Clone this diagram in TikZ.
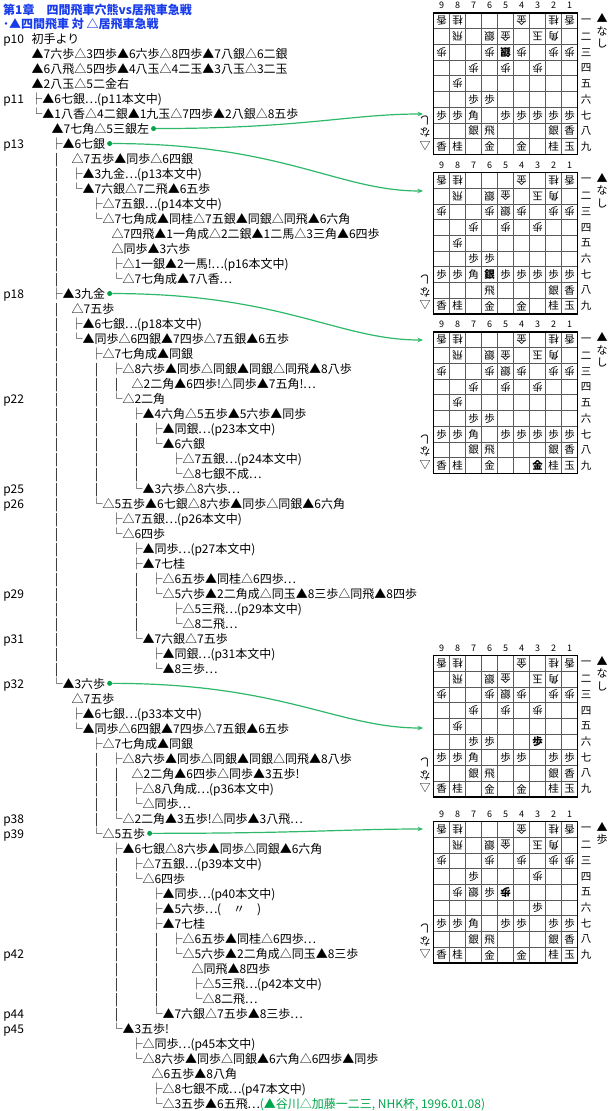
\documentclass[tikz,border=0pt]{standalone}
\usepackage{fontspec}
\setmainfont{Noto Sans CJK JP}
\newcommand\Dts{\makebox[12pt][c]{…}}
\usetikzlibrary{arrows.meta,calc}
\definecolor{tblue}{RGB}{25,60,235}
\definecolor{lgreen}{RGB}{45,185,105}
\definecolor{dgreen}{RGB}{0,165,75}
\definecolor{gridc}{RGB}{90,90,90}
\newcommand\TreeLine[4]{\node[txt] (#1) at ({30.5+20*#3},{43.1+15*#2}) {#4};}
\newcommand\ContLine[4]{\node[txt] (#1) at ({51.7+20*#3},{43.1+15*#2}) {#4};}
\newcommand\PageLbl[3]{\node[txt] (#1) at (3.3,{43.1+15*#2}) {#3};}
\newcommand\DrawBoard[4]{%
  \foreach \cc in {1,...,8}{\draw[gridline] ({433.5+16*\cc},#2) -- ({433.5+16*\cc},{#2+141.3});}
  \foreach \rr in {1,...,8}{\draw[gridline] (433.5,{#2+15.7*\rr}) -- (577.5,{#2+15.7*\rr});}
  \node[boardframe] (#1) at (505.5,{#2+70.65}) {};
  \foreach \cc in {1,...,9}{\node[collbl] (#1c\cc) at ({433.5+(9-\cc)*16+8},{#2-7.5}) {\cc};}
  \foreach \rr/\kk in {1/一,2/二,3/三,4/四,5/五,6/六,7/七,8/八,9/九}{\node[ranklbl] (#1r\rr) at (586,{#2+(\rr-0.5)*15.7}) {\kk};}
  \foreach \cc/\rr/\pp/\aa in {#3}{\node[pc,rotate=\aa] (#1p\cc\rr) at ({433.5+(9-\cc)*16+8},{#2+(\rr-0.5)*15.7}) {\pp};}
  \node[shand] (#1hs) at (602,{#2+0.5}) {▲\\#4};
  \node[ghand] (#1hg) at (425,{#2+120}) {△\\な\\し};
}
\begin{document}
\begin{tikzpicture}[x=1pt,y=-1pt,
  txt/.style={inner sep=0pt,outer sep=0pt,anchor=base west,font=\fontsize{12}{15}\selectfont},
  vbar/.style={inner sep=0pt,anchor=base,font=\fontsize{12}{15}\selectfont},
  ttl/.style={inner sep=0pt,anchor=base west,text=tblue,font=\fontsize{12}{15}\selectfont\bfseries},
  gdot/.style={circle,fill=dgreen,inner sep=0pt,minimum size=5pt},
  garrow/.style={draw=lgreen,line width=1.2pt,-{Stealth[length=5.5pt,width=4.5pt]}},
  boardframe/.style={draw=black,line width=1.6pt,minimum width=144pt,minimum height=141.3pt,inner sep=0pt},
  gridline/.style={draw=gridc,line width=0.7pt},
  pc/.style={inner sep=0pt,font=\fontsize{10.5}{11}\selectfont},
  collbl/.style={inner sep=0pt,font=\fontsize{9}{10}\selectfont},
  ranklbl/.style={inner sep=0pt,font=\fontsize{10.5}{11}\selectfont},
  shand/.style={inner sep=0pt,anchor=north,align=center,font=\fontsize{11}{12.5}\selectfont},
  ghand/.style={inner sep=0pt,align=center,rotate=180,font=\fontsize{11}{12.5}\selectfont}]
\fill[white] (0,0) rectangle (612,1111);
\useasboundingbox (0,0) rectangle (612,1111);
% titles
\node[ttl] (t1) at (3,14.5) {第1章　四間飛車穴熊vs居飛車急戦};
\node[ttl] (t2) at (3,28.5) {･▲四間飛車 対 △居飛車急戦};
% page labels
\PageLbl{p10}{0}{p10}
\PageLbl{p11}{4}{p11}
\PageLbl{p13}{7}{p13}
\PageLbl{p18}{17}{p18}
\PageLbl{p22}{24}{p22}
\PageLbl{p25}{30}{p25}
\PageLbl{p26}{31}{p26}
\PageLbl{p29}{37}{p29}
\PageLbl{p31}{40}{p31}
\PageLbl{p32}{43}{p32}
\PageLbl{p38}{52}{p38}
\PageLbl{p39}{53}{p39}
\PageLbl{p42}{61}{p42}
\PageLbl{p44}{65}{p44}
\PageLbl{p45}{66}{p45}
% opening
\node[txt] (l0) at (31.7,43.1) {初手より};
\node[txt] (l1) at (31.7,58.1) {▲7六歩△3四歩▲6六歩△8四歩▲7八銀△6二銀};
\node[txt] (l2) at (31.7,73.1) {▲6八飛△5四歩▲4八玉△4二玉▲3八玉△3二玉};
\node[txt] (l3) at (31.7,88.1) {▲2八玉△5二金右};
% tree
\TreeLine{l4}{4}{0}{├▲6七銀\Dts(p11本文中)}
\TreeLine{l5}{5}{0}{└▲1八香△4二銀▲1九玉△7四歩▲2八銀△8五歩}
\ContLine{l6}{6}{0}{▲7七角△5三銀左}
\TreeLine{l7}{7}{1}{├▲6七銀}
\ContLine{l8}{8}{1}{△7五歩▲同歩△6四銀}
\TreeLine{l9}{9}{2}{├▲3九金\Dts(p13本文中)}
\TreeLine{l10}{10}{2}{└▲7六銀△7二飛▲6五歩}
\TreeLine{l11}{11}{3}{├△7五銀\Dts(p14本文中)}
\TreeLine{l12}{12}{3}{└△7七角成▲同桂△7五銀▲同銀△同飛▲6六角}
\ContLine{l13}{13}{3}{△7四飛▲1一角成△2二銀▲1二馬△3三角▲6四歩}
\ContLine{l14}{14}{3}{△同歩▲3六歩}
\TreeLine{l15}{15}{4}{├△1一銀▲2一馬!\Dts(p16本文中)}
\TreeLine{l16}{16}{4}{└△7七角成▲7八香\Dts}
\TreeLine{l17}{17}{1}{├▲3九金}
\ContLine{l18}{18}{1}{△7五歩}
\TreeLine{l19}{19}{2}{├▲6七銀\Dts(p18本文中)}
\TreeLine{l20}{20}{2}{└▲同歩△6四銀▲7四歩△7五銀▲6五歩}
\TreeLine{l21}{21}{3}{├△7七角成▲同銀}
\TreeLine{l22}{22}{4}{├△8六歩▲同歩△同銀▲同銀△同飛▲8八歩}
\ContLine{l23}{23}{4}{△2二角▲6四歩!△同歩▲7五角!\Dts}
\TreeLine{l24}{24}{4}{└△2二角}
\TreeLine{l25}{25}{5}{├▲4六角△5五歩▲5六歩▲同歩}
\TreeLine{l26}{26}{6}{├▲同銀\Dts(p23本文中)}
\TreeLine{l27}{27}{6}{└▲6六銀}
\TreeLine{l28}{28}{7}{├△7五銀\Dts(p24本文中)}
\TreeLine{l29}{29}{7}{└△8七銀不成\Dts}
\TreeLine{l30}{30}{5}{└▲3六歩△8六歩\Dts}
\TreeLine{l31}{31}{3}{└△5五歩▲6七銀△8六歩▲同歩△同銀▲6六角}
\TreeLine{l32}{32}{4}{├△7五銀\Dts(p26本文中)}
\TreeLine{l33}{33}{4}{└△6四歩}
\TreeLine{l34}{34}{5}{├▲同歩\Dts(p27本文中)}
\TreeLine{l35}{35}{5}{├▲7七桂}
\TreeLine{l36}{36}{6}{├△6五歩▲同桂△6四歩\Dts}
\TreeLine{l37}{37}{6}{└△5六歩▲2二角成△同玉▲8三歩△同飛▲8四歩}
\TreeLine{l38}{38}{7}{├△5三飛\Dts(p29本文中)}
\TreeLine{l39}{39}{7}{└△8二飛\Dts}
\TreeLine{l40}{40}{5}{└▲7六銀△7五歩}
\TreeLine{l41}{41}{6}{├▲同銀\Dts(p31本文中)}
\TreeLine{l42}{42}{6}{└▲8三歩\Dts}
\TreeLine{l43}{43}{1}{└▲3六歩}
\ContLine{l44}{44}{1}{△7五歩}
\TreeLine{l45}{45}{2}{├▲6七銀\Dts(p33本文中)}
\TreeLine{l46}{46}{2}{└▲同歩△6四銀▲7四歩△7五銀▲6五歩}
\TreeLine{l47}{47}{3}{├△7七角成▲同銀}
\TreeLine{l48}{48}{4}{├△8六歩▲同歩△同銀▲同銀△同飛▲8八歩}
\ContLine{l49}{49}{4}{△2二角▲6四歩△同歩▲3五歩!}
\TreeLine{l50}{50}{5}{├△8八角成\Dts(p36本文中)}
\TreeLine{l51}{51}{5}{└△同歩\Dts}
\TreeLine{l52}{52}{4}{└△2二角▲3五歩!△同歩▲3八飛\Dts}
\TreeLine{l53}{53}{3}{└△5五歩}
\TreeLine{l54}{54}{4}{├▲6七銀△8六歩▲同歩△同銀▲6六角}
\TreeLine{l55}{55}{5}{├△7五銀\Dts(p39本文中)}
\TreeLine{l56}{56}{5}{└△6四歩}
\TreeLine{l57}{57}{6}{├▲同歩\Dts(p40本文中)}
\TreeLine{l58}{58}{6}{├▲5六歩\Dts(　〃　)}
\TreeLine{l59}{59}{6}{├▲7七桂}
\TreeLine{l60}{60}{7}{├△6五歩▲同桂△6四歩\Dts}
\TreeLine{l61}{61}{7}{└△5六歩▲2二角成△同玉▲8三歩}
\ContLine{l62}{62}{7}{△同飛▲8四歩}
\TreeLine{l63}{63}{8}{├△5三飛\Dts(p42本文中)}
\TreeLine{l64}{64}{8}{└△8二飛\Dts}
\TreeLine{l65}{65}{6}{└▲7六銀△7五歩▲8三歩\Dts}
\TreeLine{l66}{66}{4}{└▲3五歩!}
\TreeLine{l67}{67}{5}{├△同歩\Dts(p45本文中)}
\TreeLine{l68}{68}{5}{└△8六歩▲同歩△同銀▲6六角△6四歩▲同歩}
\ContLine{l69}{69}{5}{△6五歩▲8八角}
\TreeLine{l70}{70}{6}{├△8七銀不成\Dts(p47本文中)}
\TreeLine{l71}{71}{6}{└△3五歩▲6五飛\Dts\textcolor{dgreen}{(▲谷川△加藤一二三, NHK杯, 1996.01.08)}}
% vertical bars
\foreach \ii in {8,...,16}{\node[vbar] (v1-\ii) at (56.5,{43.1+15*\ii}) {|};}
\foreach \ii in {18,...,42}{\node[vbar] (v1-\ii) at (56.5,{43.1+15*\ii}) {|};}
\foreach \ii in {22,...,30}{\node[vbar] (v3-\ii) at (96.5,{43.1+15*\ii}) {|};}
\foreach \ii in {48,...,52}{\node[vbar] (v3-\ii) at (96.5,{43.1+15*\ii}) {|};}
\foreach \ii in {23,49,50,51}{\node[vbar] (v4-\ii) at (116.5,{43.1+15*\ii}) {|};}
\foreach \ii in {55,...,65}{\node[vbar] (v4-\ii) at (116.5,{43.1+15*\ii}) {|};}
\foreach \ii in {26,...,29}{\node[vbar] (v5-\ii) at (136.5,{43.1+15*\ii}) {|};}
\foreach \ii in {36,...,39}{\node[vbar] (v5-\ii) at (136.5,{43.1+15*\ii}) {|};}
\foreach \ii in {60,...,64}{\node[vbar] (v6-\ii) at (156.5,{43.1+15*\ii}) {|};}
% boards
\DrawBoard{bA}{13}{9/1/香/180,8/1/桂/180,4/1/金/180,2/1/桂/180,1/1/香/180,8/2/飛/180,6/2/銀/180,5/2/金/180,3/2/玉/180,2/2/角/180,9/3/歩/180,6/3/歩/180,5/3/\textbf{銀}/180,4/3/歩/180,2/3/歩/180,1/3/歩/180,7/4/歩/180,5/4/歩/180,3/4/歩/180,8/5/歩/180,7/6/歩/0,6/6/歩/0,9/7/歩/0,8/7/歩/0,7/7/角/0,5/7/歩/0,4/7/歩/0,3/7/歩/0,2/7/歩/0,1/7/歩/0,7/8/銀/0,6/8/飛/0,2/8/銀/0,1/8/香/0,9/9/香/0,8/9/桂/0,6/9/金/0,4/9/金/0,2/9/桂/0,1/9/玉/0}{な\\し}
\DrawBoard{bB}{172.5}{9/1/香/180,8/1/桂/180,4/1/金/180,2/1/桂/180,1/1/香/180,8/2/飛/180,6/2/銀/180,5/2/金/180,3/2/玉/180,2/2/角/180,9/3/歩/180,6/3/歩/180,5/3/銀/180,4/3/歩/180,2/3/歩/180,1/3/歩/180,7/4/歩/180,5/4/歩/180,3/4/歩/180,8/5/歩/180,7/6/歩/0,6/6/歩/0,9/7/歩/0,8/7/歩/0,7/7/角/0,6/7/\textbf{銀}/0,5/7/歩/0,4/7/歩/0,3/7/歩/0,2/7/歩/0,1/7/歩/0,6/8/飛/0,2/8/銀/0,1/8/香/0,9/9/香/0,8/9/桂/0,6/9/金/0,4/9/金/0,2/9/桂/0,1/9/玉/0}{な\\し}
\DrawBoard{bC}{332}{9/1/香/180,8/1/桂/180,4/1/金/180,2/1/桂/180,1/1/香/180,8/2/飛/180,6/2/銀/180,5/2/金/180,3/2/玉/180,2/2/角/180,9/3/歩/180,6/3/歩/180,5/3/銀/180,4/3/歩/180,2/3/歩/180,1/3/歩/180,7/4/歩/180,5/4/歩/180,3/4/歩/180,8/5/歩/180,7/6/歩/0,6/6/歩/0,9/7/歩/0,8/7/歩/0,7/7/角/0,5/7/歩/0,4/7/歩/0,3/7/歩/0,2/7/歩/0,1/7/歩/0,7/8/銀/0,6/8/飛/0,2/8/銀/0,1/8/香/0,9/9/香/0,8/9/桂/0,6/9/金/0,3/9/\textbf{金}/0,2/9/桂/0,1/9/玉/0}{な\\し}
\DrawBoard{bD}{655.5}{9/1/香/180,8/1/桂/180,4/1/金/180,2/1/桂/180,1/1/香/180,8/2/飛/180,6/2/銀/180,5/2/金/180,3/2/玉/180,2/2/角/180,9/3/歩/180,6/3/歩/180,5/3/銀/180,4/3/歩/180,2/3/歩/180,1/3/歩/180,7/4/歩/180,5/4/歩/180,3/4/歩/180,8/5/歩/180,7/6/歩/0,6/6/歩/0,3/6/\textbf{歩}/0,9/7/歩/0,8/7/歩/0,7/7/角/0,5/7/歩/0,4/7/歩/0,2/7/歩/0,1/7/歩/0,7/8/銀/0,6/8/飛/0,2/8/銀/0,1/8/香/0,9/9/香/0,8/9/桂/0,6/9/金/0,4/9/金/0,2/9/桂/0,1/9/玉/0}{な\\し}
\DrawBoard{bE}{821.5}{9/1/香/180,8/1/桂/180,4/1/金/180,2/1/桂/180,1/1/香/180,8/2/飛/180,6/2/銀/180,5/2/金/180,3/2/玉/180,2/2/角/180,9/3/歩/180,6/3/歩/180,4/3/歩/180,2/3/歩/180,1/3/歩/180,3/4/歩/180,8/5/歩/180,7/5/銀/180,5/5/\textbf{歩}/180,7/4/歩/0,6/5/歩/0,3/6/歩/0,9/7/歩/0,8/7/歩/0,7/7/角/0,5/7/歩/0,4/7/歩/0,2/7/歩/0,1/7/歩/0,7/8/銀/0,6/8/飛/0,2/8/銀/0,1/8/香/0,9/9/香/0,8/9/桂/0,6/9/金/0,4/9/金/0,2/9/桂/0,1/9/玉/0}{歩}
% connectors
\node[gdot] (dA) at ([xshift=4.5pt]l6.east) {};
\node[gdot] (dB) at ([xshift=4.5pt]l7.east) {};
\node[gdot] (dC) at ([xshift=4.5pt]l17.east) {};
\node[gdot] (dD) at ([xshift=4.5pt]l43.east) {};
\node[gdot] (dE) at ([xshift=4.5pt]l53.east) {};
\coordinate (eA) at (423,114);
\coordinate (eB) at (423,191);
\coordinate (eC) at (423,340);
\coordinate (eD) at (423,728);
\coordinate (eE) at (423,829);
\draw[garrow] (dA) .. controls ($(dA)+(149,0)$) and ($(eA)+(-73,0)$) .. (eA);
\draw[garrow] (dB) .. controls ($(dB)+(173,0)$) and ($(eB)+(-85,0)$) .. (eB);
\draw[garrow] (dC) .. controls ($(dC)+(173,0)$) and ($(eC)+(-85,0)$) .. (eC);
\draw[garrow] (dD) .. controls ($(dD)+(173,0)$) and ($(eD)+(-85,0)$) .. (eD);
\draw[garrow] (dE) .. controls ($(dE)+(151,0)$) and ($(eE)+(-74,0)$) .. (eE);
\end{tikzpicture}
\end{document}
